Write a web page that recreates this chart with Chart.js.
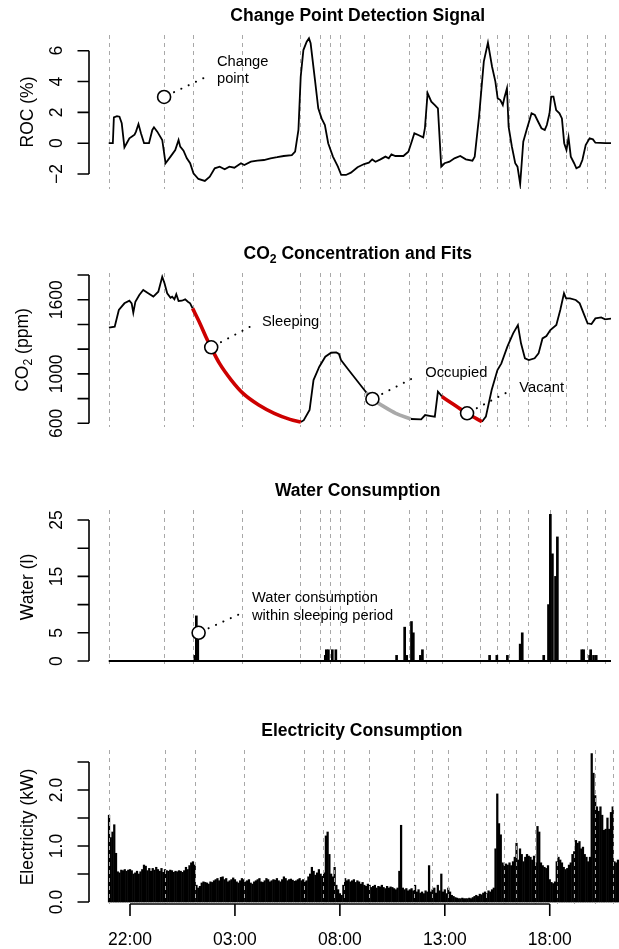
<!DOCTYPE html>
<html>
<head>
<meta charset="utf-8">
<script src="https://cdn.jsdelivr.net/npm/chart.js@4/dist/chart.umd.min.js"></script>
<style>
  html, body { margin: 0; padding: 0; background: #fff; overflow: hidden; }
  #wrap { position: relative; width: 619px; height: 949px; }
  #wrap canvas { position: absolute; left: 0; }
</style>
</head>
<body>
<div id="wrap">
  <canvas id="roc" width="619" height="237" style="top:0px"></canvas>
  <canvas id="co2" width="619" height="237" style="top:237px"></canvas>
  <canvas id="water" width="619" height="237" style="top:474px"></canvas>
  <canvas id="elec" width="619" height="238" style="top:711px"></canvas>
</div>
<script>
// time is in hours from midnight of the first evening (22 = 22:00, 27 = 03:00 next day)
const changePoints = [21.0, 23.68, 25.1, 27.45, 30.28, 31.2, 31.72, 32.2, 33.37, 35.55, 36.37, 37.13, 38.97, 39.81, 40.38, 41.3, 42.36, 43.15, 44.14, 45.0];
const timeTicks = [22, 27, 32, 37, 42];
const timeLabels = ['22:00', '03:00', '08:00', '13:00', '18:00'];

// change point detection signal
const rocHours = [21.0, 21.2, 21.25, 21.4, 21.52, 21.63, 21.76, 21.87, 22.0, 22.16,
  22.25, 22.32, 22.44, 22.56, 22.71, 22.95, 23.11, 23.19, 23.35, 23.59,
  23.75, 23.99, 24.22, 24.38, 24.46, 24.62, 24.78, 24.94, 25.10, 25.34,
  25.65, 25.89, 26.13, 26.37, 26.61, 26.84, 27.08, 27.40, 27.56, 27.88,
  28.19, 28.51, 28.83, 29.15, 29.47, 29.86, 30.02, 30.18, 30.29, 30.42,
  30.58, 30.69, 30.77, 30.98, 31.14, 31.30, 31.46, 31.62, 31.85, 32.09,
  32.25, 32.48, 32.72, 33.04, 33.36, 33.59, 33.75, 33.91, 34.15, 34.39,
  34.55, 34.68, 34.87, 35.26, 35.50, 35.66, 35.79, 35.98, 36.22, 36.30,
  36.43, 36.61, 36.77, 36.93, 37.09, 37.25, 37.49, 37.73, 38.01, 38.28,
  38.60, 38.71, 38.92, 39.15, 39.35, 39.55, 39.71, 39.82, 39.95, 40.07,
  40.14, 40.27, 40.35, 40.51, 40.67, 40.78, 40.91, 41.06, 41.22, 41.46,
  41.62, 41.78, 41.94, 42.10, 42.20, 42.33, 42.41, 42.52, 42.65, 42.81,
  42.93, 43.04, 43.15, 43.25, 43.36, 43.52, 43.63, 43.79, 43.92, 44.08,
  44.27, 44.43, 44.55, 45.03, 45.4];
const rocValues = [0, 0, 1.68, 1.75, 1.72, 1.29, -0.27, 0, 0.32, 0.47,
  0.55, 0.75, 1.24, 0.64, 0, 0, 0.86, 1.03, 0.75, 0.21,
  -1.30, -0.87, -0.44, 0.21, -0.22, -0.49, -0.98, -1.30, -1.95, -2.32,
  -2.45, -2.17, -1.63, -1.52, -1.69, -1.52, -1.59, -1.30, -1.41, -1.20,
  -1.13, -1.09, -0.98, -0.91, -0.83, -0.77, -0.55, 0.86, 4.31, 6.04,
  6.58, 6.80, 6.48, 4.10, 2.26, 1.61, 1.18, 0, -0.87, -1.52,
  -2.06, -2.06, -1.91, -1.56, -1.35, -1.26, -1.05, -1.20, -1.05, -0.87,
  -0.98, -0.72, -0.83, -0.83, -0.55, 0.10, 0.64, 0.53, 0.38, 0.97,
  3.24, 2.69, 2.48, 2.26, -1.52, -1.30, -1.20, -0.98, -0.83, -1.05,
  -1.13, -0.87, 1.72, 5.29, 6.52, 4.96, 3.99, 2.91, 2.80, 2.48,
  2.91, 3.56, 1.07, -0.23, -1.30, -1.52, -2.65, 0.10, 0.86, 1.94,
  1.83, 1.39, 0.97, 0.86, 1.18, 1.94, 3.02, 3.02, 2.15, 1.94,
  1.61, 0, -0.44, 0.38, -0.87, -1.30, -1.63, -1.52, -1.09, -0.12,
  0.32, 0.25, 0.03, 0, 0];
const rocTicks = [-2, 0, 2, 4, 6];
const rocTickLabels = ['\u22122', '0', '2', '4', '6'];

// measured CO2 (null splits the segments covered by the fits)
const co2Hours = [21.01, 21.29, 21.49, 21.76, 22.0, 22.11, 22.19, 22.29, 22.48, 22.67,
  22.91, 23.16, 23.40, 23.59, 23.70, 23.83, 23.99, 24.07, 24.18, 24.27,
  24.38, 24.54, 24.70, 24.83, 24.94, 25.06,
  27.7,
  30.30, 30.44, 30.72, 30.91, 31.19, 31.48, 31.76, 32.01, 32.14, 32.24, 32.61, 32.99, 33.37, 33.47,
  34.5,
  35.62, 36.12, 36.31, 36.59, 36.78, 36.93, 37.07, 37.12,
  38.1,
  39.06, 39.25, 39.53, 39.81, 40.00, 40.29, 40.57, 40.80, 40.95, 41.14,
  41.33, 41.61, 41.80, 41.99, 42.18, 42.37, 42.66, 42.85, 43.03, 43.13,
  43.32, 43.60, 43.79, 43.98, 44.17, 44.36, 44.55, 44.83, 45.02, 45.4];
const co2Ppm = [1374, 1382, 1517, 1571, 1592, 1571, 1495, 1584, 1638, 1679,
  1652, 1625, 1665, 1786, 1733, 1652, 1616, 1625, 1603, 1644,
  1590, 1592, 1603, 1584, 1571, 1530,
  null,
  610, 625, 708, 950, 1058, 1139, 1171, 1174, 1161, 1112, 1031, 950, 869, 848,
  null,
  635, 632, 667, 659, 654, 856, 829, 816,
  null,
  613, 654, 869, 1031, 1085, 1220, 1328, 1395, 1247, 1126,
  1112, 1126, 1166, 1287, 1306, 1355, 1395, 1517, 1652, 1611,
  1611, 1598, 1571, 1490, 1409, 1403, 1449, 1457, 1441, 1450];
const sleepFitHours = [25.06, 25.41, 25.70, 25.95, 26.36, 26.93, 27.50, 28.26, 29.01, 29.77, 30.30];
const sleepFitPpm = [1530, 1410, 1301, 1215, 1085, 950, 842, 748, 681, 632, 610];
const occupiedFitHours = [33.47, 33.75, 34.32, 34.89, 35.62];
const occupiedFitPpm = [848, 797, 735, 681, 635];
const vacantFitHours = [37.12, 37.73, 38.34, 38.77, 39.06];
const vacantFitPpm = [816, 748, 681, 640, 613];
const co2Ticks = [600, 800, 1000, 1200, 1400, 1600, 1800];
const co2TickLabels = ['600', '', '1000', '', '', '1600', ''];

// water use events
const waterHours = [25.17, 25.24, 25.28, 25.31, 31.48, 31.53, 31.63, 31.82, 31.99, 34.93,
  35.32, 35.42, 35.65, 35.74, 36.08, 36.18, 39.43, 39.78, 40.29, 40.91,
  41.01, 42.05, 42.28, 42.37, 42.47, 42.62, 42.71, 43.89, 43.98, 44.27,
  44.32, 44.46, 44.59];
const waterLitres = [1, 8, 5, 5, 1, 2, 2, 2, 2, 1,
  6, 1, 7, 5, 1, 2, 1, 1, 1, 3,
  5, 1, 10, 26, 19, 15, 22, 2, 2, 1,
  2, 1, 1];
const waterSpanHours = [21.0, 45.4];
const waterTicks = [0, 5, 10, 15, 20, 25];
const waterTickLabels = ['0', '5', '', '15', '', '25'];

// electricity, one reading every 5 minutes from 21:00
const elecStartHour = 21;
const elecStepHours = 5 / 60;
const elecKw = [
  1.55, 1.15, 1.25, 1.38, 0.87, 0.54, 0.52, 0.57, 0.56, 0.58, 0.55, 0.57,
  0.58, 0.56, 0.50, 0.52, 0.55, 0.50, 0.54, 0.58, 0.66, 0.64, 0.56, 0.60,
  0.55, 0.60, 0.57, 0.62, 0.58, 0.55, 0.60, 0.53, 0.58, 0.56, 0.55, 0.57,
  0.56, 0.53, 0.55, 0.54, 0.56, 0.55, 0.53, 0.56, 0.62, 0.58, 0.65, 0.70,
  0.72, 0.66, 0.30, 0.25, 0.28, 0.34, 0.36, 0.35, 0.34, 0.32, 0.36, 0.35,
  0.38, 0.40, 0.42, 0.38, 0.44, 0.45, 0.40, 0.42, 0.36, 0.38, 0.40, 0.43,
  0.40, 0.36, 0.34, 0.38, 0.42, 0.40, 0.36, 0.38, 0.40, 0.34, 0.32, 0.36,
  0.38, 0.40, 0.42, 0.36, 0.35, 0.38, 0.42, 0.40, 0.36, 0.38, 0.40, 0.39,
  0.42, 0.38, 0.36, 0.40, 0.45, 0.42, 0.38, 0.40, 0.41, 0.39, 0.37, 0.38,
  0.40, 0.42, 0.38, 0.40, 0.36, 0.38, 0.45, 0.50, 0.62, 0.55, 0.48, 0.52,
  0.58, 0.50, 0.46, 0.52, 1.18, 1.25, 0.85, 0.50, 0.45, 0.62, 0.30, 0.22,
  0.15, 0.12, 0.30, 0.42, 0.38, 0.40, 0.36, 0.38, 0.40, 0.35, 0.38, 0.36,
  0.32, 0.35, 0.30, 0.28, 0.32, 0.30, 0.26, 0.28, 0.30, 0.25, 0.28, 0.27,
  0.30, 0.26, 0.24, 0.28, 0.25, 0.27, 0.26, 0.24, 0.22, 0.25, 0.55, 1.37,
  0.25, 0.22, 0.24, 0.20, 0.22, 0.24, 0.20, 0.30, 0.18, 0.22, 0.16, 0.18,
  0.15, 0.20, 0.18, 0.65, 0.18, 0.22, 0.25, 0.16, 0.30, 0.20, 0.50, 0.18,
  0.22, 0.15, 0.25, 0.18, 0.12, 0.10, 0.08, 0.07, 0.06, 0.06, 0.07, 0.06,
  0.06, 0.06, 0.07, 0.06, 0.08, 0.10, 0.12, 0.10, 0.14, 0.13, 0.16, 0.18,
  0.15, 0.20, 0.18, 0.22, 0.25, 0.95, 1.93, 1.40, 1.20, 0.70, 0.65, 0.68,
  0.66, 0.70, 0.65, 0.72, 0.80, 1.05, 0.75, 0.95, 0.85, 0.72, 0.80, 0.85,
  0.82, 0.80, 0.75, 0.82, 0.70, 1.35, 1.25, 0.70, 0.65, 0.62, 0.60, 0.65,
  0.40, 0.35, 0.33, 0.36, 0.72, 0.80, 0.75, 0.70, 0.62, 0.58, 0.60, 0.66,
  0.70, 0.85, 0.90, 1.10, 1.05, 1.08, 0.95, 0.98, 0.85, 0.80, 0.72, 0.80,
  2.65, 2.30, 1.90, 1.70, 1.62, 1.70, 1.55, 1.28, 1.30, 1.50, 1.30, 1.60,
  1.70, 0.72, 0.70, 0.75];
const elecTicks = [0, 0.5, 1, 1.5, 2, 2.5];
const elecTickLabels = ['0.0', '', '1.0', '', '2.0', ''];

// callouts: marked point, end of the dotted leader, text anchor
const rocNotes = [{ x: 23.68, y: 3, lx: 25.73, ly: 4.31, tx: 26.24, ty: 4.72, text: ['Change', 'point'] }];
const co2Notes = [
  { x: 25.96, y: 1215, lx: 27.99, ly: 1395, tx: 28.42, ty: 1417, text: ['Sleeping'] },
  { x: 33.76, y: 797, lx: 35.85, ly: 977, tx: 36.32, ty: 1005, text: ['Occupied'] },
  { x: 38.34, y: 681, lx: 40.49, ly: 869, tx: 40.87, ty: 883, text: ['Vacant'] }
];
const waterNotes = [{ x: 25.35, y: 5, lx: 27.42, ly: 8.46, tx: 27.93, ty: 9.59, text: ['Water consumption', 'within sleeping period'] }];

const X_MIN = 20.046, X_MAX = 45.3, TITLE_MID = 33.05;
const FONT = '"Liberation Sans", Arial, Helvetica, sans-serif';

function pts(xs, ys) { return xs.map((x, i) => ({ x: x, y: ys[i] })); }

function richWidth(ctx, parts, size, weight) {
  let w = 0;
  parts.forEach(p => {
    ctx.font = weight + ' ' + (p.sub ? size * 0.7 : size) + 'px ' + FONT;
    w += ctx.measureText(p.t).width;
  });
  return w;
}

// text centred on x with the baseline at y; parts may be subscripts
function drawRich(ctx, parts, x, y, size, weight) {
  let cx = x - richWidth(ctx, parts, size, weight) / 2;
  ctx.textAlign = 'left';
  ctx.textBaseline = 'alphabetic';
  parts.forEach(p => {
    const s = p.sub ? size * 0.7 : size;
    ctx.font = weight + ' ' + s + 'px ' + FONT;
    ctx.fillText(p.t, cx, p.sub ? y + size * 0.28 : y);
    cx += ctx.measureText(p.t).width;
  });
}

const frames = {
  roc: { title: [{ t: 'Change Point Detection Signal' }], ylab: [{ t: 'ROC (%)' }], ylabX: 32.5,
    ticks: rocTicks, labels: rocTickLabels, notes: rocNotes },
  co2: { title: [{ t: 'CO' }, { t: '2', sub: true }, { t: ' Concentration and Fits' }],
    ylab: [{ t: 'CO' }, { t: '2', sub: true }, { t: ' (ppm)' }], ylabX: 27.5,
    ticks: co2Ticks, labels: co2TickLabels, notes: co2Notes },
  water: { title: [{ t: 'Water Consumption' }], ylab: [{ t: 'Water (l)' }], ylabX: 32.5,
    ticks: waterTicks, labels: waterTickLabels, notes: waterNotes },
  elec: { title: [{ t: 'Electricity Consumption' }], ylab: [{ t: 'Electricity (kW)' }], ylabX: 32.5,
    ticks: elecTicks, labels: elecTickLabels, notes: [], linesOnTop: true, timeAxis: true }
};

function changeLines(chart) {
  const { ctx, chartArea: a, scales: { x } } = chart;
  ctx.save();
  ctx.strokeStyle = '#a8a8a8';
  ctx.lineWidth = 1;
  ctx.setLineDash([4, 4]);
  changePoints.forEach(h => {
    const px = Math.round(x.getPixelForValue(h)) + 0.5;
    ctx.beginPath();
    ctx.moveTo(px, a.top);
    ctx.lineTo(px, a.bottom);
    ctx.stroke();
  });
  ctx.restore();
}

function drawNotes(chart, list) {
  const { ctx, scales: { x, y } } = chart;
  ctx.save();
  list.forEach(n => {
    const cx = x.getPixelForValue(n.x), cy = y.getPixelForValue(n.y);
    const ex = x.getPixelForValue(n.lx), ey = y.getPixelForValue(n.ly);
    const d = Math.hypot(ex - cx, ey - cy);
    ctx.strokeStyle = '#000';
    ctx.lineWidth = 2;
    ctx.lineCap = 'round';
    ctx.setLineDash([0.1, 8]);
    ctx.beginPath();
    ctx.moveTo(cx + (ex - cx) * 11 / d, cy + (ey - cy) * 11 / d);
    ctx.lineTo(ex, ey);
    ctx.stroke();
    ctx.setLineDash([]);
    ctx.fillStyle = '#000';
    ctx.font = '14.7px ' + FONT;
    ctx.textAlign = 'left';
    ctx.textBaseline = 'middle';
    const tx = x.getPixelForValue(n.tx), ty = y.getPixelForValue(n.ty);
    n.text.forEach((line, i) => ctx.fillText(line, tx, ty + (i - (n.text.length - 1) / 2) * 17.4));
  });
  ctx.restore();
}

// R-style frame: bold title, y axis with rotated labels, time axis on the last panel
function drawFrame(chart, f) {
  const { ctx, chartArea: a, scales: { x, y } } = chart;
  ctx.save();
  ctx.fillStyle = '#000';
  ctx.strokeStyle = '#000';
  ctx.lineWidth = 1.6;
  drawRich(ctx, f.title, x.getPixelForValue(TITLE_MID), a.top - 14.5, 17.5, 'bold');

  const ys = f.ticks.map(v => y.getPixelForValue(v));
  ctx.beginPath();
  ctx.moveTo(a.left, ys[0]);
  ctx.lineTo(a.left, ys[ys.length - 1]);
  ys.forEach(py => { ctx.moveTo(a.left, py); ctx.lineTo(a.left - 11.5, py); });
  ctx.stroke();
  f.labels.forEach((lab, i) => {
    if (!lab) return;
    ctx.save();
    ctx.translate(61.5, ys[i]);
    ctx.rotate(-Math.PI / 2);
    ctx.font = '17.5px ' + FONT;
    ctx.textAlign = 'center';
    ctx.textBaseline = 'alphabetic';
    ctx.fillText(lab, 0, 0);
    ctx.restore();
  });
  ctx.save();
  ctx.translate(f.ylabX, (a.top + a.bottom) / 2);
  ctx.rotate(-Math.PI / 2);
  drawRich(ctx, f.ylab, 0, 0, 17.5, 'normal');
  ctx.restore();

  if (f.timeAxis) {
    const xs = timeTicks.map(v => x.getPixelForValue(v));
    const by = a.bottom;
    ctx.beginPath();
    ctx.moveTo(xs[0], by);
    ctx.lineTo(xs[xs.length - 1], by);
    xs.forEach(px => { ctx.moveTo(px, by); ctx.lineTo(px, by + 12); });
    ctx.stroke();
    ctx.font = '17.5px ' + FONT;
    ctx.textAlign = 'center';
    ctx.textBaseline = 'alphabetic';
    xs.forEach((px, i) => ctx.fillText(timeLabels[i], px, by + 40.5));
  }
  ctx.restore();
}

const rStyle = {
  id: 'rStyle',
  beforeDatasetsDraw(chart) {
    const f = frames[chart.canvas.id];
    if (!f.linesOnTop) changeLines(chart);
  },
  afterDatasetsDraw(chart) {
    const f = frames[chart.canvas.id];
    if (f.linesOnTop) changeLines(chart);
    drawNotes(chart, f.notes);
  },
  afterDraw(chart) { drawFrame(chart, frames[chart.canvas.id]); }
};

function options(yMin, yMax, padTop, padBottom) {
  return {
    responsive: false,
    animation: false,
    events: [],
    layout: { padding: { left: 89, right: 0, top: padTop, bottom: padBottom } },
    plugins: { legend: { display: false }, tooltip: { enabled: false }, title: { display: false } },
    scales: {
      x: { type: 'linear', display: false, min: X_MIN, max: X_MAX, offset: false },
      y: { type: 'linear', display: false, min: yMin, max: yMax }
    }
  };
}

function markers(notes) {
  return {
    type: 'line', data: notes.map(n => ({ x: n.x, y: n.y })), showLine: false,
    pointRadius: 6.5, pointBackgroundColor: '#fff', pointBorderColor: '#000', pointBorderWidth: 1.6, order: 0
  };
}

function fitLine(xs, ys, color) {
  return {
    type: 'line', data: pts(xs, ys), borderColor: color, borderWidth: 3.6,
    pointRadius: 0, cubicInterpolationMode: 'monotone', order: 2
  };
}

new Chart(document.getElementById('roc'), {
  type: 'line',
  data: { datasets: [
    { data: pts(rocHours, rocValues), borderColor: '#000', borderWidth: 1.8, pointRadius: 0, order: 3 },
    markers(rocNotes)
  ] },
  options: options(-2.97, 7.017, 35, 48),
  plugins: [rStyle]
});

new Chart(document.getElementById('co2'), {
  type: 'line',
  data: { datasets: [
    { data: pts(co2Hours, co2Ppm), borderColor: '#000', borderWidth: 1.8, pointRadius: 0, spanGaps: false, order: 3 },
    fitLine(sleepFitHours, sleepFitPpm, '#cd0000'),
    fitLine(occupiedFitHours, occupiedFitPpm, '#a9a9a9'),
    fitLine(vacantFitHours, vacantFitPpm, '#cd0000'),
    markers(co2Notes)
  ] },
  options: options(570.1, 1816.2, 36, 47),
  plugins: [rStyle]
});

new Chart(document.getElementById('water'), {
  type: 'bar',
  data: { datasets: [
    { type: 'line', data: pts(waterSpanHours, [0, 0]), borderColor: '#000', borderWidth: 2, pointRadius: 0, order: 2 },
    { type: 'bar', data: pts(waterHours, waterLitres), backgroundColor: '#000', barThickness: 2, order: 1 },
    markers(waterNotes)
  ] },
  options: options(-0.53, 26.77, 36, 47),
  plugins: [rStyle]
});

new Chart(document.getElementById('elec'), {
  type: 'bar',
  data: { datasets: [
    { data: elecKw.map((v, i) => ({ x: elecStartHour + i * elecStepHours, y: v })), backgroundColor: '#000', barThickness: 1.6 }
  ] },
  options: options(-0.0357, 2.714, 39, 45),
  plugins: [rStyle]
});
</script>
</body>
</html>
